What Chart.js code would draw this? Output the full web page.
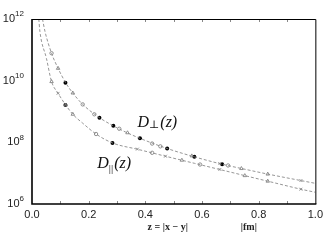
<!DOCTYPE html>
<html>
<head>
<meta charset="utf-8">
<script src="https://cdn.jsdelivr.net/npm/chart.js@4/dist/chart.umd.min.js"></script>
<style>
  html, body { margin: 0; padding: 0; background: #fff; }
  #wrap { width: 327px; height: 245px; }
</style>
</head>
<body>
<div id="wrap"><canvas id="chart"></canvas></div>
<script>
/* =========================
   DATA  (z in fm, value as log10)
========================= */

// fitted curves (dashed)
const perpCurveZ   = [0.037, 0.046, 0.069, 0.092, 0.119, 0.144, 0.179, 0.238, 0.284, 0.331, 0.381, 0.477, 0.573, 0.671, 0.740, 0.832, 0.949, 1.0];
const perpCurveLog = [12.0, 11.59, 10.89, 10.40, 9.93, 9.60, 9.23, 8.80, 8.55, 8.33, 8.13, 7.80, 7.53, 7.29, 7.15, 6.97, 6.76, 6.67];

const parCurveZ    = [0.024, 0.028, 0.051, 0.069, 0.092, 0.119, 0.144, 0.179, 0.226, 0.284, 0.375, 0.471, 0.573, 0.671, 0.751, 0.832, 0.949, 1.0];
const parCurveLog  = [12.0, 11.59, 10.72, 9.97, 9.59, 9.21, 8.91, 8.62, 8.27, 7.98, 7.77, 7.55, 7.32, 7.10, 6.92, 6.74, 6.48, 6.38];

// filled lattice points
const filledZ   = [0.118, 0.238, 0.287, 0.381, 0.477, 0.573, 0.671, 0.118, 0.284];
const filledLog = [9.93, 8.80, 8.54, 8.13, 7.80, 7.53, 7.29, 9.21, 7.98];

// open circles
const circleZ   = [0.069, 0.179, 0.220, 0.308, 0.424, 0.453, 0.692, 0.226, 0.424, 0.593];
const circleLog = [10.89, 9.23, 8.91, 8.44, 7.96, 7.87, 7.25, 8.27, 7.66, 7.28];

// open triangles
const triZ   = [0.092, 0.144, 0.337, 0.564, 0.739, 0.832, 0.069, 0.119, 0.144, 0.529, 0.751, 0.832];
const triLog = [10.40, 9.60, 8.31, 7.56, 7.15, 6.97, 9.97, 9.21, 8.91, 7.42, 6.92, 6.74];

// crosses
const crossZ   = [0.663, 0.949, 0.092, 0.372, 0.471, 0.663, 0.949];
const crossLog = [7.31, 6.76, 9.59, 7.78, 7.55, 7.12, 6.48];

// axes
const xTicks = [0, 0.2, 0.4, 0.6, 0.8, 1.0];
const yExponents = [6, 8, 10, 12];

const pts = (zs, logs) => zs.map((z, i) => ({ x: z, y: Math.pow(10, logs[i]) }));

/* =========================
   DECORATION PLUGIN
========================= */

const framePlugin = {
  id: "frame",
  afterDraw(c) {
    const ctx = c.ctx;
    const a = c.chartArea;
    const xs = c.scales.x;
    const ys = c.scales.y;
    ctx.save();

    // inner minor ticks top / bottom
    ctx.strokeStyle = "#888";
    ctx.lineWidth = 1;
    for (let k = 1; k < 10; k++) {
      const px = Math.round(xs.getPixelForValue(k / 10)) + 0.5;
      ctx.beginPath();
      ctx.moveTo(px, a.top); ctx.lineTo(px, a.top + 3);
      ctx.moveTo(px, a.bottom); ctx.lineTo(px, a.bottom - 3);
      ctx.stroke();
    }

    // frame
    ctx.strokeStyle = "#000";
    ctx.lineWidth = 1;
    ctx.beginPath();
    ctx.moveTo(a.left, a.top + 0.5); ctx.lineTo(a.right + 0.5, a.top + 0.5);
    ctx.lineTo(a.right + 0.5, a.bottom);
    ctx.stroke();
    ctx.lineWidth = 1.6;
    ctx.beginPath();
    ctx.moveTo(a.left, a.top); ctx.lineTo(a.left, a.bottom); ctx.lineTo(a.right + 1, a.bottom);
    ctx.stroke();

    // y labels 10^n
    ctx.fillStyle = "#222";
    ctx.textBaseline = "middle";
    yExponents.forEach(e => {
      const py = ys.getPixelForValue(Math.pow(10, e));
      ctx.font = "8px 'Liberation Sans', Arial, sans-serif";
      const ew = ctx.measureText(String(e)).width;
      ctx.textAlign = "left";
      const right = 24;
      ctx.fillText(String(e), right - ew, py - 5);
      ctx.font = "11px 'Liberation Sans', Arial, sans-serif";
      ctx.textAlign = "right";
      ctx.fillText("10", right - ew, py);
    });

    // curve labels
    ctx.fillStyle = "#111";
    ctx.textBaseline = "alphabetic";
    ctx.textAlign = "left";
    let x0 = xs.getPixelForValue(0.372);
    let y0 = ys.getPixelForValue(Math.pow(10, 8.5));
    ctx.font = "italic 16px 'Liberation Serif', 'DejaVu Serif', serif";
    ctx.fillText("D", x0, y0);
    x0 += ctx.measureText("D").width;
    ctx.font = "11px 'DejaVu Serif', serif";
    ctx.fillText("\u22A5", x0, y0 + 1);
    x0 += ctx.measureText("\u22A5").width + 1;
    ctx.font = "italic 16px 'Liberation Serif', 'DejaVu Serif', serif";
    ctx.fillText("(z)", x0, y0);

    x0 = xs.getPixelForValue(0.23);
    y0 = ys.getPixelForValue(Math.pow(10, 7.17));
    ctx.fillText("D", x0, y0);
    x0 += ctx.measureText("D").width;
    ctx.font = "11px 'Liberation Serif', serif";
    ctx.fillText("||", x0, y0 + 4);
    x0 += ctx.measureText("||").width + 1;
    ctx.font = "italic 16px 'Liberation Serif', 'DejaVu Serif', serif";
    ctx.fillText("(z)", x0, y0);

    // x axis title
    ctx.font = "bold 10px 'Liberation Serif', 'DejaVu Serif', serif";
    ctx.textBaseline = "middle";
    ctx.fillStyle = "#222";
    ctx.fillText("z = |x \u2212 y|", xs.getPixelForValue(0.408), a.bottom + 23);
    ctx.fillText("|fm|", xs.getPixelForValue(0.737), a.bottom + 23);

    ctx.restore();
  }
};

/* =========================
   CHART
========================= */

const curveStyle = {
  showLine: true,
  borderColor: "#8a8a8a",
  borderWidth: 0.9,
  borderDash: [3, 2],
  pointRadius: 0,
  tension: 0.4,
  cubicInterpolationMode: "monotone",
  fill: false
};

const markerStyle = {
  showLine: false,
  borderColor: "#777",
  backgroundColor: "rgba(0,0,0,0)",
  borderWidth: 0.8,
  pointRadius: 1.7
};

new Chart(document.getElementById("chart"), {
  type: "scatter",
  data: {
    datasets: [
      { ...curveStyle, label: "perp", data: pts(perpCurveZ, perpCurveLog) },
      { ...curveStyle, label: "par", data: pts(parCurveZ, parCurveLog) },
      { ...markerStyle, label: "circles", pointStyle: "circle", data: pts(circleZ, circleLog) },
      { ...markerStyle, label: "triangles", pointStyle: "triangle", pointRadius: 2, data: pts(triZ, triLog) },
      { ...markerStyle, label: "crosses", pointStyle: "crossRot", pointRadius: 2, data: pts(crossZ, crossLog) },
      { label: "filled", showLine: false, pointStyle: "circle", pointRadius: 2, borderWidth: 0,
        backgroundColor: "#000", borderColor: "#000", data: pts(filledZ, filledLog) }
    ]
  },
  options: {
    responsive: true,
    maintainAspectRatio: false,
    animation: false,
    events: [],
    layout: { padding: { top: 19, right: 9, left: 0, bottom: 0 } },
    plugins: {
      legend: { display: false },
      tooltip: { enabled: false }
    },
    scales: {
      x: {
        type: "linear",
        min: 0,
        max: 1,
        afterBuildTicks: s => { s.ticks = xTicks.map(v => ({ value: v })); },
        afterFit: s => { s.height = 41; },
        ticks: {
          callback: v => v.toFixed(1),
          color: "#222",
          padding: 4,
          maxRotation: 0,
          font: { family: "'Liberation Sans', Arial, sans-serif", size: 11 }
        },
        grid: { display: false, drawTicks: false },
        border: { display: false }
      },
      y: {
        type: "logarithmic",
        min: 1e6,
        max: 1e12,
        afterBuildTicks: s => { s.ticks = yExponents.map(e => ({ value: Math.pow(10, e) })); },
        afterFit: s => { s.width = 32; },
        ticks: { display: false },
        grid: { display: false, drawTicks: false },
        border: { display: false }
      }
    }
  },
  plugins: [framePlugin]
});
</script>
</body>
</html>
